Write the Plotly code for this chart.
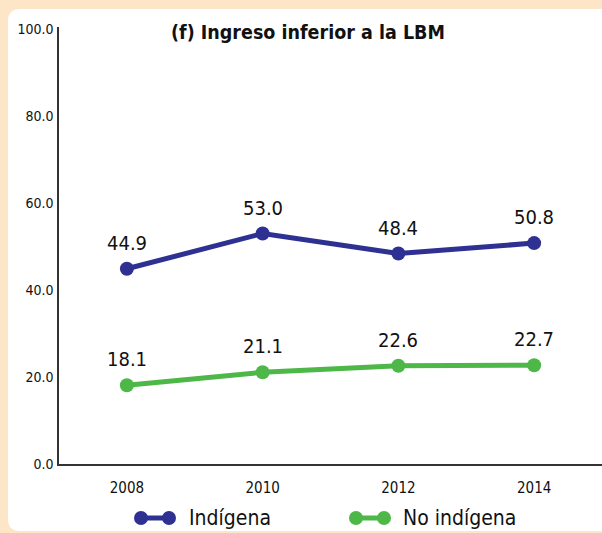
import plotly.graph_objects as go

years = [2008, 2010, 2012, 2014]
indigena = [44.9, 53.0, 48.4, 50.8]
no_indigena = [18.1, 21.1, 22.6, 22.7]
y_ticks = [0, 20, 40, 60, 80, 100]

BLUE = "#2E3192"
GREEN = "#4DB848"
PEACH = "#FDE6C8"
FONT = "DejaVu Sans Condensed, Liberation Sans Narrow, sans-serif"

W, H = 602, 533
L, R, T, B = 59, 0, 27, 69
PW, PH = W - L - R, H - T - B


def px(x):
    return (x - L) / PW


def py(y):
    return (H - B - y) / PH


def path(start, lines, quad=None):
    # build an SVG path in paper coords from pixel points
    s = f"M {px(start[0]):.5f},{py(start[1]):.5f}"
    for x, y in lines:
        s += f" L {px(x):.5f},{py(y):.5f}"
    if quad:
        (cx, cy), (ex, ey) = quad
        s += f" Q {px(cx):.5f},{py(cy):.5f} {px(ex):.5f},{py(ey):.5f}"
    return s + " Z"


fig = go.Figure()

for name, vals, color in [
    ("Indígena", indigena, BLUE),
    ("No indígena", no_indigena, GREEN),
]:
    fig.add_trace(
        go.Scatter(
            x=years,
            y=vals,
            mode="lines+markers",
            name=name,
            line=dict(color=color, width=5),
            marker=dict(color=color, size=14),
            cliponaxis=False,
        )
    )
    # value labels above the points
    for xv, yv in zip(years, vals):
        fig.add_annotation(
            x=xv, y=yv, text=f"{yv:.1f}", showarrow=False,
            yshift=26, xanchor="center", yanchor="middle",
            font=dict(family=FONT, size=20, color="#111"),
        )

# -------------------------------------------------
# peach frame around the white panel (rounded left corners)
# -------------------------------------------------
frame = [
    path((0, 0), [(W, 0), (W, 9), (0, 9)]),
    path((0, 0), [(8, 0), (8, H), (0, H)]),
    path((0, 531), [(W, 531), (W, H), (0, H)]),
    path((8, 21), [(8, 9), (20, 9)], quad=((8, 9), (8, 21))),
    path((8, 519), [(8, 531), (20, 531)], quad=((8, 531), (8, 519))),
]
for p in frame:
    fig.add_shape(
        type="path", path=p, xref="paper", yref="paper",
        fillcolor=PEACH, line=dict(width=0), layer="below",
    )

# -------------------------------------------------
# custom legend (dumbbell symbols)
# -------------------------------------------------
leg_y = py(518)
for color, xa, xb, xt, label in [
    (BLUE, 141, 169, 187, "Indígena"),
    (GREEN, 356, 384, 401, "No indígena"),
]:
    fig.add_shape(
        type="line", xref="paper", yref="paper",
        x0=px(xa), x1=px(xb), y0=leg_y, y1=leg_y,
        line=dict(color=color, width=5),
    )
    for xc in (xa, xb):
        fig.add_shape(
            type="circle", xref="paper", yref="paper",
            x0=px(xc - 7), x1=px(xc + 7),
            y0=leg_y - 7 / PH, y1=leg_y + 7 / PH,
            fillcolor=color, line=dict(width=0),
        )
    fig.add_annotation(
        x=px(xt), y=leg_y, xref="paper", yref="paper",
        text=label, showarrow=False, xanchor="left", yanchor="middle",
        font=dict(family=FONT, size=21, color="#111"),
    )

fig.add_annotation(
    x=px(308), y=py(33), xref="paper", yref="paper",
    text="<b>(f) Ingreso inferior a la LBM</b>", showarrow=False,
    xanchor="center", yanchor="middle",
    font=dict(family=FONT, size=19.5, color="#111"),
)

fig.update_xaxes(
    range=[2007, 2015],
    tickvals=years,
    ticks="outside",
    ticklen=9,
    tickcolor="rgba(0,0,0,0)",
    showgrid=False,
    zeroline=False,
    showline=True,
    linecolor="#333",
    linewidth=1.5,
    tickfont=dict(family=FONT, size=15, color="#111"),
)

fig.update_yaxes(
    range=[0, 100.5],
    tickvals=y_ticks,
    tickformat=".1f",
    ticks="outside",
    ticklen=1,
    tickcolor="rgba(0,0,0,0)",
    showgrid=False,
    zeroline=False,
    showline=True,
    linecolor="#333",
    linewidth=1.5,
    tickfont=dict(family=FONT, size=14, color="#111"),
)

fig.update_layout(
    width=W,
    height=H,
    margin=dict(l=L, r=R, t=T, b=B),
    paper_bgcolor="white",
    plot_bgcolor="rgba(0,0,0,0)",
    showlegend=False,
)

fig.write_html(
    "out.html",
    config={"displayModeBar": False},
    post_script="document.body.style.margin='0';document.body.style.overflow='hidden';",
)
